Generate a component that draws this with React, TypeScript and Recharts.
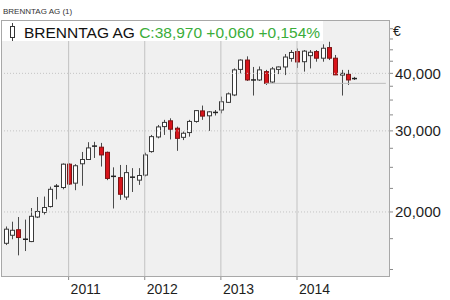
import { ComposedChart, Bar, XAxis, YAxis, ReferenceLine } from 'recharts';

// monthly candles, Mar 2010 .. Oct 2014, plus empty months to the right edge
const months = [
  '03/2010', '04/2010', '05/2010', '06/2010', '07/2010', '08/2010', '09/2010', '10/2010', '11/2010', '12/2010',
  '01/2011', '02/2011', '03/2011', '04/2011', '05/2011', '06/2011', '07/2011', '08/2011', '09/2011', '10/2011', '11/2011', '12/2011',
  '01/2012', '02/2012', '03/2012', '04/2012', '05/2012', '06/2012', '07/2012', '08/2012', '09/2012', '10/2012', '11/2012', '12/2012',
  '01/2013', '02/2013', '03/2013', '04/2013', '05/2013', '06/2013', '07/2013', '08/2013', '09/2013', '10/2013', '11/2013', '12/2013',
  '01/2014', '02/2014', '03/2014', '04/2014', '05/2014', '06/2014', '07/2014', '08/2014', '09/2014', '10/2014', '11/2014', '12/2014',
  '01/2015', '02/2015', '03/2015',
];

const opens = [
  17.1, 17.8, 18.3, 17.55, 17.25, 19.5, 19.95, 20.55, 22.8, 22.6,
  25.4, 23.1, 25.45, 26.0, 27.8, 27.65, 26.95, 23.85, 23.75, 21.55, 23.8, 23.45,
  24.05, 27.05, 29.1, 30.65, 31.55, 30.4, 29.05, 29.75, 31.45, 33.15, 32.35, 32.9,
  33.3, 34.6, 35.9, 40.8, 42.75, 38.7, 38.7, 40.35, 38.3, 40.8, 41.3, 43.1,
  44.6, 42.4, 43.7, 44.6, 43.15, 45.5, 43.15, 39.65, 39.8, 38.91,
];
const highs = [
  18.6, 19.05, 19.5, 19.25, 20.4, 21.55, 21.6, 22.7, 23.0, 25.5,
  25.5, 25.4, 27.0, 28.35, 28.4, 28.25, 27.05, 25.0, 25.3, 25.3, 24.9, 24.9,
  26.9, 29.4, 30.9, 31.7, 31.95, 30.65, 29.9, 31.7, 33.3, 34.05, 33.1, 33.3,
  35.6, 36.35, 41.0, 42.9, 43.55, 41.3, 41.4, 40.7, 41.3, 41.4, 44.05, 44.95,
  45.3, 44.95, 44.95, 44.95, 46.25, 46.85, 43.85, 40.7, 40.7, 39.3,
];
const lows = [
  16.95, 17.45, 16.1, 16.45, 17.2, 19.4, 19.75, 20.45, 21.3, 22.4,
  22.9, 22.3, 22.8, 25.95, 26.2, 25.1, 23.45, 20.35, 21.25, 21.25, 22.1, 22.9,
  23.9, 26.9, 28.9, 29.4, 28.75, 27.15, 28.65, 29.15, 31.25, 31.7, 30.0, 32.4,
  32.75, 34.5, 35.7, 40.0, 38.5, 35.8, 38.5, 37.75, 38.1, 39.85, 39.65, 42.4,
  41.1, 40.35, 41.0, 42.4, 42.4, 42.75, 39.65, 35.8, 37.75, 38.7,
];
const closes = [
  18.35, 18.25, 17.6, 17.45, 19.57, 20.05, 20.45, 22.4, 22.75, 25.4,
  23.0, 25.2, 26.0, 27.55, 27.8, 26.6, 23.65, 23.9, 21.85, 24.35, 23.8, 24.0,
  26.6, 29.15, 30.6, 31.3, 30.25, 28.9, 29.65, 31.45, 33.2, 32.3, 33.0, 32.9,
  34.7, 36.1, 40.7, 42.75, 38.7, 38.7, 40.7, 38.05, 40.9, 41.3, 43.4, 44.4,
  42.35, 44.7, 44.45, 43.15, 45.35, 43.15, 39.7, 40.0, 38.7, 38.97,
];

const yearTicks = ['01/2011', '01/2012', '01/2013', '01/2014'];
const priceTicks = [15, 17.5, 20, 22.5, 25, 27.5, 30, 32.5, 35, 37.5, 40, 42.5, 45, 47.5, 50];
const gridLevels = [20, 30, 40];
const supportLevel = 38.05;

const data = months.map((m, i) =>
  i < opens.length
    ? { m, o: opens[i], h: highs[i], l: lows[i], c: closes[i], range: [lows[i], highs[i]] }
    : { m }
);

const FONT = '"Liberation Sans", Arial, sans-serif';

const Candle = (props: any) => {
  const { x, y, width, height, payload } = props;
  if (payload == null || payload.o == null) return null;
  const top = Math.min(y, y + height);
  const bottom = Math.max(y, y + height);
  const lh = Math.log(payload.h);
  const span = lh - Math.log(payload.l);
  const toY = (v: number) => (span > 0 ? top + ((lh - Math.log(v)) / span) * (bottom - top) : top);
  const px = Math.round(x + width / 2);
  const yo = toY(payload.o);
  const yc = toY(payload.c);
  const up = payload.c >= payload.o;
  const bTop = Math.min(yo, yc);
  const bBot = Math.max(yo, yc);
  const doji = bBot - bTop < 1.2;
  return (
    <g>
      <line x1={px + 0.5} x2={px + 0.5} y1={top} y2={bottom} stroke="#4a4a4a" />
      {doji ? (
        <line x1={px - 2} x2={px + 3} y1={yc} y2={yc} stroke="#222" strokeWidth={1.5} />
      ) : (
        <rect
          x={px - 1.5}
          y={bTop}
          width={4}
          height={bBot - bTop}
          fill={up ? '#ffffff' : '#d8141b'}
          stroke={up ? '#3a3a3a' : '#7c1414'}
        />
      )}
    </g>
  );
};

const YearTick = ({ x, y, payload }: any) => (
  <text x={x + 2} y={y + 12} fontSize={14} fill="#1e1e1e" fontFamily={FONT} textAnchor="start">
    {String(payload.value).slice(3)}
  </text>
);

// only the round levels get a label, the rest are minor ticks
const fmtPrice = (v: number) => (gridLevels.includes(v) ? v.toFixed(3).replace('.', ',') : '');

export default function App() {
  return (
    <div style={{ position: 'absolute', left: 0, top: 0, width: 450, height: 300, background: '#fff', fontFamily: FONT }}>
      <div style={{ position: 'absolute', left: 2, top: 21, width: 387, height: 255, background: '#f0f0f0' }} />
      <div style={{ position: 'absolute', left: 0, top: 0 }}>
        <ComposedChart width={450} height={300} data={data} margin={{ top: 21, right: 0, bottom: 0, left: 2 }}>
          <XAxis
            dataKey="m"
            ticks={yearTicks}
            interval={0}
            tickSize={4}
            tickLine={{ stroke: '#8a8a8a' }}
            axisLine={false}
            height={24}
            tick={<YearTick />}
          />
          <YAxis
            orientation="right"
            scale="log"
            domain={[14.52, 51.97]}
            allowDataOverflow
            ticks={priceTicks}
            interval={0}
            tickSize={4}
            tickLine={{ stroke: '#8a8a8a' }}
            axisLine={false}
            width={61}
            tickFormatter={fmtPrice}
            tick={{ fontSize: 15, fill: '#1e1e1e', fontFamily: FONT }}
          />
          {yearTicks.map((t) => (
            <ReferenceLine key={t} x={t} stroke="#c2c2c2" />
          ))}
          {gridLevels.map((v) => (
            <ReferenceLine key={v} y={v} stroke="#c4c4c4" strokeDasharray="1 2" />
          ))}
          <ReferenceLine
            segment={[
              { x: '08/2013', y: supportLevel },
              { x: '03/2015', y: supportLevel },
            ]}
            stroke="#bdbdbd"
          />
          <Bar dataKey="range" shape={<Candle />} barSize={5} isAnimationActive={false} />
        </ComposedChart>
      </div>
      <div
        style={{
          position: 'absolute',
          left: 1,
          top: 20,
          width: 389,
          height: 257,
          border: '1px solid #a8a8a8',
          boxSizing: 'border-box',
          pointerEvents: 'none',
        }}
      />
      <svg style={{ position: 'absolute', left: 2, top: 21 }} width={321} height={20}>
        <rect x={0} y={0} width={321} height={20} fill="#fff" />
        <line x1={10.5} x2={10.5} y1={2} y2={20} stroke="#444" />
        <rect x={8.5} y={5.5} width={4} height={11} fill="#fff" stroke="#333" />
        <text x={22} y={16.5} fontSize={15.5} fontFamily={FONT} fill="#111">
          BRENNTAG AG{' '}
          <tspan fill="#3aad3a">C:38,970 +0,060 +0,154%</tspan>
        </text>
      </svg>
      <div style={{ position: 'absolute', left: 3, top: 7, fontSize: 8, lineHeight: '10px', color: '#333' }}>
        BRENNTAG AG (1)
      </div>
      <div style={{ position: 'absolute', left: 393, top: 23, fontSize: 14, lineHeight: '16px', color: '#1e1e1e' }}>€</div>
    </div>
  );
}
